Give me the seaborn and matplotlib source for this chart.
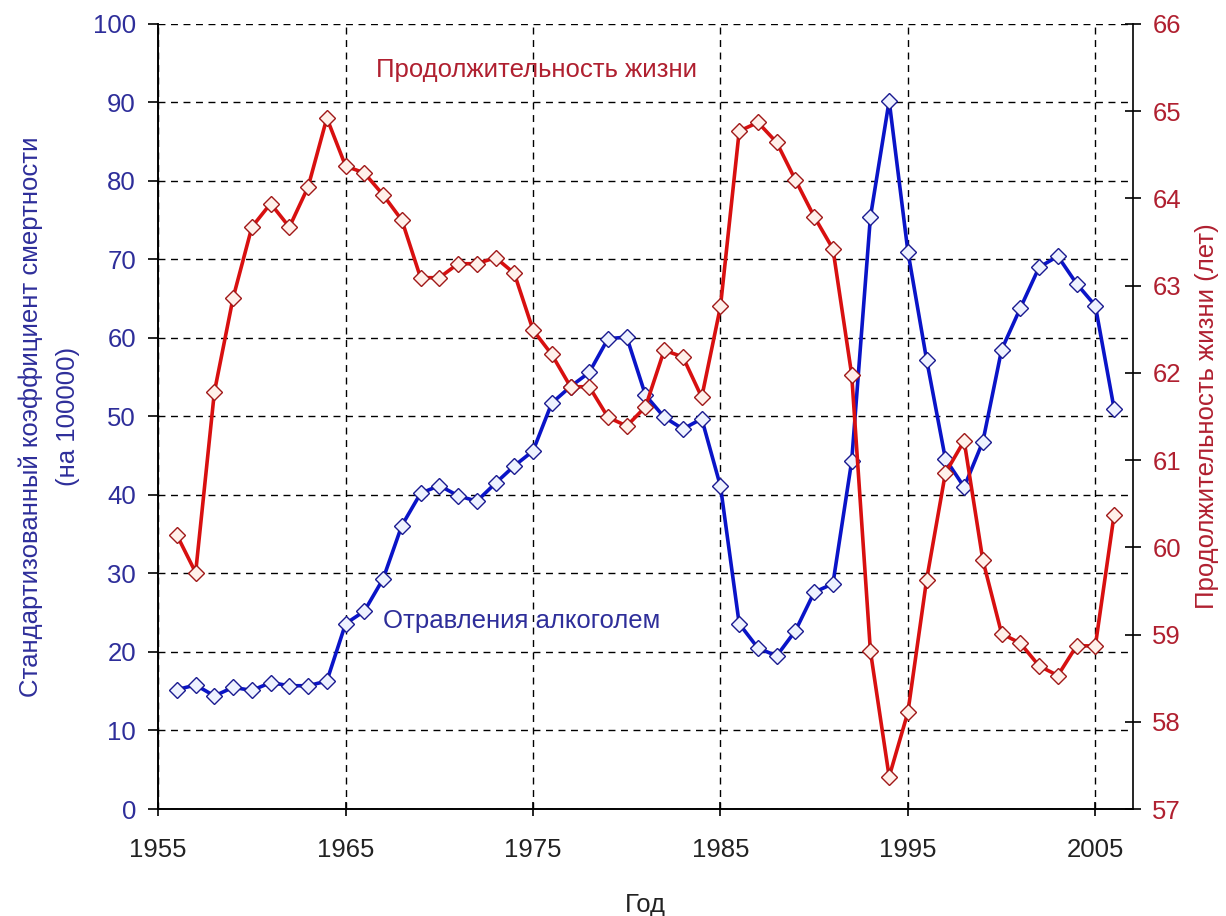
import numpy as np
import pandas as pd
import matplotlib
matplotlib.use("Agg")
import matplotlib.pyplot as plt
import seaborn as sns

years = list(range(1956, 2007))
poisoning = [15.2, 15.8, 14.4, 15.5, 15.1, 16.1, 15.7, 15.7, 16.3, 23.6,
             25.2, 29.3, 36.1, 40.2, 41.2, 39.9, 39.2, 41.5, 43.7, 45.6,
             51.7, 53.8, 55.6, 59.9, 60.1, 52.7, 49.9, 48.4, 49.7, 41.1,
             23.6, 20.5, 19.5, 22.7, 27.6, 28.7, 44.3, 75.4, 90.2, 71.0,
             57.2, 44.6, 41.0, 46.8, 58.5, 63.8, 69.0, 70.4, 66.9, 64.1,
             51.0]
life_exp = [60.14, 59.71, 61.78, 62.86, 63.67, 63.94, 63.67, 64.13, 64.92, 64.37,
            64.29, 64.04, 63.75, 63.09, 63.09, 63.25, 63.25, 63.32, 63.14, 62.49,
            62.21, 61.84, 61.84, 61.49, 61.39, 61.61, 62.26, 62.18, 61.72, 62.76,
            64.77, 64.87, 64.64, 64.21, 63.79, 63.42, 61.98, 58.81, 57.37, 58.11,
            59.63, 60.85, 61.22, 59.85, 59.01, 58.90, 58.64, 58.53, 58.87, 58.87,
            60.37]
x_ticks = [1955, 1965, 1975, 1985, 1995, 2005]
left_ticks = list(range(0, 101, 10))
right_ticks = list(range(57, 67))

df = pd.DataFrame({"year": years, "poison": poisoning, "life": life_exp})

sns.set_theme(style="white")
plt.rcParams['font.family'] = ['Liberation Sans', 'DejaVu Sans']

BLUE = "#0a14c8"
RED = "#d81010"
BLUE_TXT = "#2e2e9a"
RED_TXT = "#b02030"
FS = 18.5

fig = plt.figure(figsize=(12.26, 9.16), dpi=100)
ax = fig.add_axes([0.129, 0.1168, 0.795, 0.8572])
ax2 = ax.twinx()

sns.lineplot(data=df, x="year", y="poison", ax=ax, color=BLUE, linewidth=2.6,
             marker="D", markersize=8.5, markerfacecolor="#eef2ff",
             markeredgecolor="#1a1a90", markeredgewidth=1.0, zorder=3)
sns.lineplot(data=df, x="year", y="life", ax=ax2, color=RED, linewidth=2.6,
             marker="D", markersize=8.5, markerfacecolor="#fff0ea",
             markeredgecolor="#a01818", markeredgewidth=1.0, zorder=3)

ax.set_xlim(1955, 2007)
ax.set_ylim(0, 100)
ax2.set_ylim(57, 66)
ax.set_xticks(x_ticks)
ax.set_yticks(left_ticks)
ax2.set_yticks(right_ticks)

ax.grid(True, color="black", linestyle=(0, (5, 4)), linewidth=1.0)
ax2.grid(False)
ax.set_axisbelow(True)

for a in (ax, ax2):
    a.spines['top'].set_visible(False)
    for s in ('left', 'right', 'bottom'):
        a.spines[s].set_color("black")
        a.spines[s].set_linewidth(1.2)
ax.spines['right'].set_visible(False)

ax.tick_params(axis='y', which='major', left=True, direction='out', length=7,
               width=1.2, color='black', labelsize=FS, labelcolor=BLUE_TXT, pad=9)
ax.tick_params(axis='x', which='major', bottom=True, direction='inout', length=10,
               width=1.2, color='black', labelsize=FS, labelcolor='#222222', pad=16)
ax2.tick_params(axis='y', which='major', right=True, direction='inout', length=12,
                width=1.2, color='black', labelsize=FS, labelcolor=RED_TXT, pad=8)

ax.set_xlabel("Год", fontsize=FS, color="#222222", labelpad=22)
ax.set_ylabel("Стандартизованный коэффициент смертности\n(на 100000)",
              fontsize=FS, color=BLUE_TXT, labelpad=9, linespacing=1.7)
ax2.set_ylabel("Продолжительность жизни (лет)", fontsize=FS, color=RED_TXT, labelpad=10)

ax.text(1975.2, 94.1, "Продолжительность жизни", fontsize=FS, color=RED_TXT,
        ha="center", va="center")
ax.text(1974.4, 23.9, "Отравления алкоголем", fontsize=FS, color=BLUE_TXT,
        ha="center", va="center")

fig.savefig("out.png", dpi=100)
